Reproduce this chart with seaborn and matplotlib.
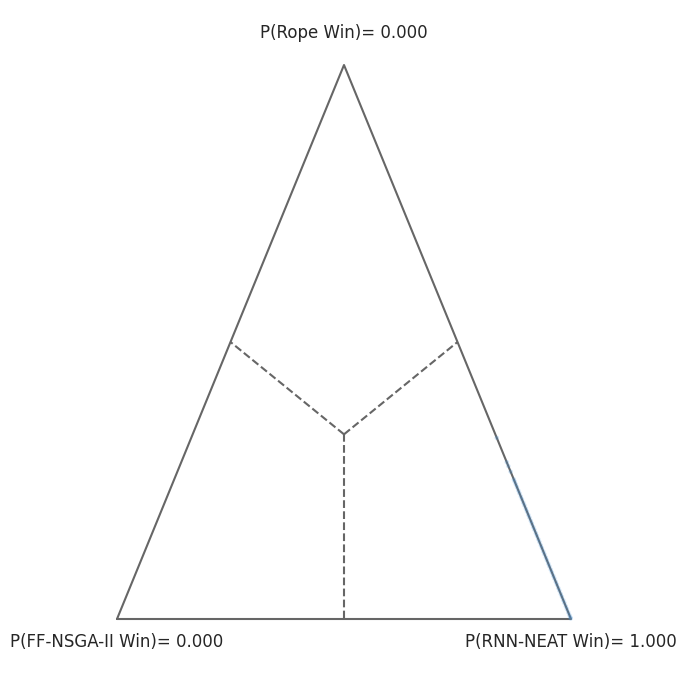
import numpy as np
import pandas as pd
import seaborn as sns
import matplotlib.pyplot as plt

sns.set_theme(style="white")
plt.rcParams['font.family'] = ['DejaVu Sans']

# names of the three corners and the posterior probabilities shown
names = ["FF-NSGA-II", "Rope", "RNN-NEAT"]
probs = [0.000, 0.000, 1.000]

# posterior samples: all lie on the Rope / RNN-NEAT edge
# (share of FF-NSGA-II is zero), listed here by their rope share
rope_share = [0.327, 0.283, 0.276, 0.266, 0.252, 0.248, 0.243,
              0.238, 0.232, 0.227, 0.221, 0.216, 0.210, 0.205, 0.199, 0.194,
              0.188, 0.183, 0.177, 0.172, 0.166, 0.161, 0.155, 0.150, 0.144,
              0.139, 0.133, 0.128, 0.122, 0.117, 0.111, 0.106, 0.100, 0.095,
              0.089, 0.084, 0.078, 0.073, 0.067, 0.062, 0.056, 0.051, 0.045,
              0.040, 0.034, 0.029, 0.023, 0.018, 0.012, 0.007, 0.003, 0.001]
ff_share = [0.0] * len(rope_share)

h = np.sqrt(3) / 2


def project(ff, rope, rnn):
    # FF corner at (0, 0), RNN corner at (1, 0), Rope corner at (0.5, h)
    ff, rope, rnn = np.asarray(ff), np.asarray(rope), np.asarray(rnn)
    return rnn + 0.5 * rope, rope * h


rope = np.array(rope_share)
ff = np.array(ff_share)
rnn = 1 - rope - ff
px, py = project(ff, rope, rnn)
samples = pd.DataFrame({'x': px, 'y': py})

fig = plt.figure(figsize=(6.87, 6.84), dpi=100)
ax = fig.add_axes([117 / 687, 65 / 684, 454 / 687, 554 / 684])

# triangle
ax.plot([0, 1, 0.5, 0], [0, 0, h, 0], color='#666666', lw=1.5,
        zorder=2, clip_on=False)

# dashed lines from the centre to the mid points of the edges
cx, cy = project(1 / 3, 1 / 3, 1 / 3)
for m in [(0.5, 0.5, 0), (0.5, 0, 0.5), (0, 0.5, 0.5)]:
    mx, my = project(*m)
    ax.plot([cx, mx], [cy, my], color='#666666', lw=1.5, ls='--',
            zorder=2, clip_on=False)

sns.scatterplot(data=samples, x='x', y='y', ax=ax, s=10, alpha=0.25,
                color='#3f8fd8', edgecolor='none', zorder=3, clip_on=False)

ax.text(0, -0.036, 'P({} Win)= {:.3f}'.format(names[0], probs[0]),
        ha='center', va='center', fontsize=12, color='#262626')
ax.text(0.5, h + 0.05, 'P({} Win)= {:.3f}'.format(names[1], probs[1]),
        ha='center', va='center', fontsize=12, color='#262626')
ax.text(1, -0.036, 'P({} Win)= {:.3f}'.format(names[2], probs[2]),
        ha='center', va='center', fontsize=12, color='#262626')

ax.set_xlim(0, 1)
ax.set_ylim(0, h)
ax.set_axis_off()

plt.savefig('out.png', dpi=100)
